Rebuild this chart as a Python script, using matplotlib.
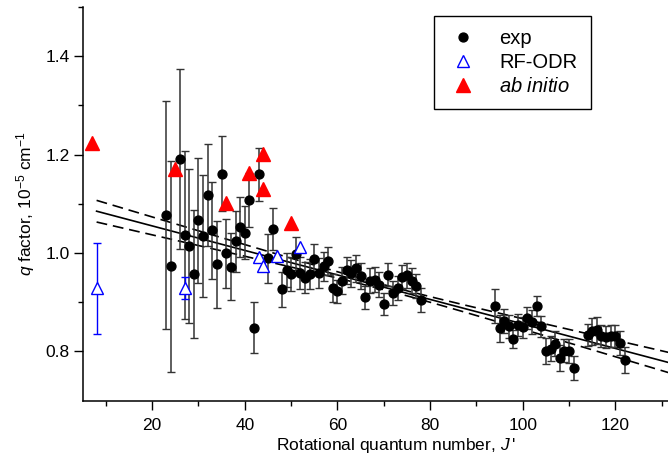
import numpy as np
import matplotlib
matplotlib.use("Agg")
from matplotlib import pyplot as plt

# experimental q factors (J', q, error) in 1e-5 cm^-1
exp_J = [23, 24, 26, 27, 28, 29, 30, 31, 32, 33, 34, 35, 36, 37, 38, 39, 40, 41, 42, 43,
         45, 46, 48, 49, 50, 51, 52, 53, 54, 55, 56, 57, 58, 59, 60, 61, 62, 63, 64, 65,
         66, 67, 68, 69, 70, 71, 72, 73, 74, 75, 76, 77, 78,
         94, 95, 96, 97, 98, 99, 100, 101, 102, 103, 104, 105, 106, 107, 108, 109, 110, 111,
         114, 115, 116, 117, 118, 119, 120, 121, 122]
exp_q = [1.077, 0.973, 1.191, 1.037, 1.014, 0.957, 1.067, 1.034, 1.118, 1.046, 0.977, 1.161,
         1.000, 0.972, 1.024, 1.053, 1.041, 1.108, 0.848, 1.160,
         0.989, 1.049, 0.926, 0.966, 0.957, 0.999, 0.959, 0.950, 0.957, 0.988, 0.960, 0.973,
         0.984, 0.929, 0.922, 0.944, 0.965, 0.959, 0.969, 0.953,
         0.910, 0.944, 0.946, 0.936, 0.896, 0.956, 0.919, 0.929, 0.951, 0.955, 0.944, 0.933, 0.905,
         0.892, 0.847, 0.862, 0.851, 0.826, 0.854, 0.849, 0.868, 0.860, 0.892, 0.851, 0.801,
         0.806, 0.816, 0.787, 0.802, 0.801, 0.767,
         0.833, 0.841, 0.843, 0.831, 0.830, 0.831, 0.831, 0.817, 0.783]
exp_err = [0.232, 0.214, 0.182, 0.170, 0.157, 0.130, 0.127, 0.124, 0.104, 0.098, 0.089, 0.076,
           0.070, 0.068, 0.062, 0.060, 0.054, 0.055, 0.052, 0.054,
           0.049, 0.043, 0.036, 0.035, 0.034, 0.033, 0.033, 0.032, 0.031, 0.031, 0.030, 0.030,
           0.029, 0.029, 0.024, 0.028, 0.028, 0.027, 0.027, 0.027,
           0.024, 0.026, 0.026, 0.026, 0.022, 0.023, 0.025, 0.025, 0.025, 0.025, 0.025, 0.025, 0.025,
           0.034, 0.027, 0.024, 0.024, 0.018, 0.022, 0.022, 0.022, 0.024, 0.020, 0.022, 0.027,
           0.026, 0.026, 0.026, 0.024, 0.024, 0.024,
           0.022, 0.027, 0.027, 0.022, 0.022, 0.022, 0.022, 0.025, 0.027]

# RF-ODR (open blue triangles), 0 = no error bar drawn
rf_J = [8, 27, 43, 44, 47, 52]
rf_q = [0.928, 0.929, 0.991, 0.973, 0.995, 1.012]
rf_err = [0.093, 0.022, 0, 0, 0, 0]

# ab initio (filled red triangles)
ai_J = [7, 25, 36, 41, 44, 44, 50]
ai_q = [1.223, 1.170, 1.102, 1.162, 1.202, 1.131, 1.062]

# linear fit and its confidence band
fit_intercept = 1.105
fit_slope = -0.00249
band_centre = 72
band_min = 0.005
band_growth = 3.35e-4
fit_range = [8, 140]

plt.rcParams["font.family"] = ["Liberation Sans", "DejaVu Sans"]
plt.rcParams["mathtext.fontset"] = "custom"
plt.rcParams["mathtext.rm"] = "Liberation Sans"
plt.rcParams["mathtext.it"] = "Liberation Sans:italic"

fig = plt.figure(figsize=(6.68, 4.59), dpi=100)
W, H = 668.0, 459.0
left, right, bottom, top = 82.7, 708.0, 400.7, 7.0
ax = fig.add_axes([left / W, 1 - bottom / H, (right - left) / W, (bottom - top) / H])

J = np.linspace(fit_range[0], fit_range[1], 300)
q_fit = fit_intercept + fit_slope * J
hw = np.sqrt(band_min ** 2 + (band_growth * (J - band_centre)) ** 2)
ax.plot(J, q_fit, color="black", lw=1.2, zorder=2)
ax.plot(J, q_fit + hw, color="black", lw=1.2, ls=(0, (6.5, 3.5)), zorder=2)
ax.plot(J, q_fit - hw, color="black", lw=1.2, ls=(0, (6.5, 3.5)), zorder=2)

eb = ax.errorbar(exp_J, exp_q, yerr=exp_err, fmt="none", ecolor="0.2", elinewidth=1.1,
                 capsize=3.2, capthick=1.0, zorder=3)
for cap in eb[1]:
    cap.set_color("black")
ax.plot(exp_J, exp_q, "o", color="black", ms=6.4, ls="none", zorder=4, label="exp")

rf_J_e = [j for j, e in zip(rf_J, rf_err) if e > 0]
rf_q_e = [q for q, e in zip(rf_q, rf_err) if e > 0]
rf_e = [e for e in rf_err if e > 0]
ax.errorbar(rf_J_e, rf_q_e, yerr=rf_e, fmt="none", ecolor="blue", elinewidth=1.0,
            capsize=3.2, capthick=1.0, zorder=3)
ax.plot(rf_J, rf_q, "^", mfc="white", mec="blue", mew=1.0, ms=8.5, ls="none", zorder=5,
        label="RF-ODR")
ax.plot(ai_J, ai_q, "^", color="red", ms=9.5, ls="none", zorder=5, label="$ab$ $initio$")

ax.set_xlim(5, 140)
ax.set_ylim(0.7, 1.5)
ax.set_xticks([20, 40, 60, 80, 100, 120])
ax.set_xticks(np.arange(10, 140, 20), minor=True)
ax.set_yticks([0.8, 1.0, 1.2, 1.4])
ax.set_yticks([0.9, 1.1, 1.3, 1.5], minor=True)
ax.set_yticklabels(["0.8", "1.0", "1.2", "1.4"])
ax.spines["top"].set_visible(False)
ax.spines["right"].set_visible(False)
for s in ("left", "bottom"):
    ax.spines[s].set_linewidth(1.1)
ax.tick_params(which="major", direction="out", length=6.5, width=1.0, labelsize=12.5, pad=3)
ax.tick_params(which="minor", direction="out", length=3.8, width=1.0)
ax.tick_params(axis="x", which="major", pad=6)

ax.set_xlabel("Rotational quantum number, $J\\,$'", fontsize=12.5, labelpad=2)
ax.set_ylabel("$q$ factor, 10$^{-5}$ cm$^{-1}$", fontsize=12.5, labelpad=6)

leg = ax.legend(loc="upper left", bbox_to_anchor=(434 / W, 1 - 15.7 / H), bbox_transform=fig.transFigure,
                fontsize=14.5, frameon=True, fancybox=False, framealpha=1, edgecolor="black",
                borderpad=0.65, labelspacing=0.25, handlelength=1.6, handletextpad=1.0,
                borderaxespad=0, numpoints=1)
leg.get_frame().set_linewidth(1.0)

fig.savefig("out.png", dpi=100)
